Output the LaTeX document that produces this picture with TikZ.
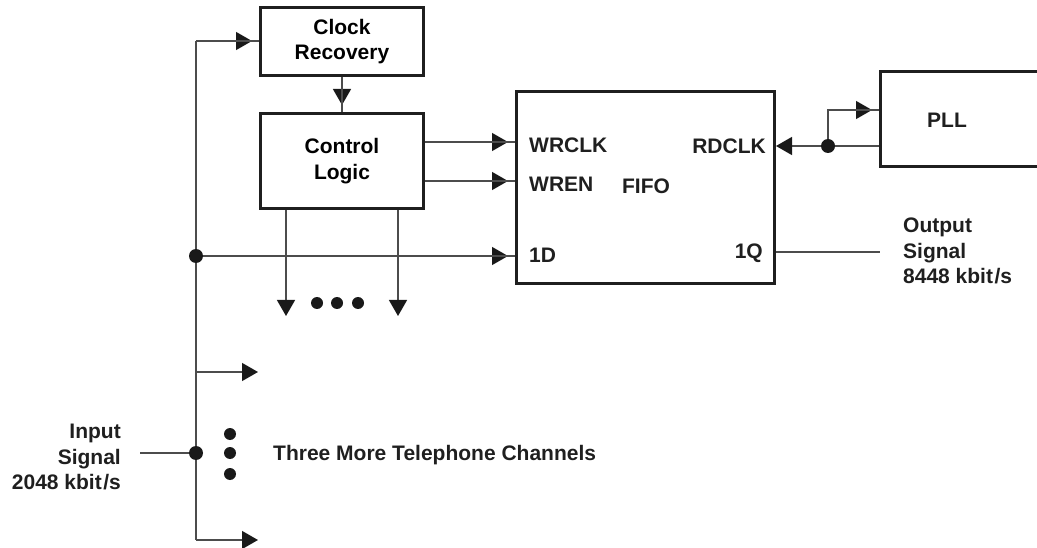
\documentclass[tikz,border=0pt]{standalone}
\usepackage{fontspec}
\setmainfont{Liberation Sans}
\usetikzlibrary{arrows.meta}
\begin{document}
\begin{tikzpicture}[x=1pt,y=-1pt,
  box/.style={draw=black!88, line width=3pt, inner sep=0pt, align=center,
    font=\fontsize{21}{25.5}\selectfont\bfseries},
  wire/.style={draw=black!70, line width=1.3pt},
  sig/.style={wire, -{Triangle[length=16pt,width=18pt,color=black!90]}},
  % arrow head set back from the block, with the wire running on to its edge
  feed/.style={sig, shorten >=7pt, postaction={draw=black!70, -, shorten >=0pt}},
  lbl/.style={font=\fontsize{21}{25.5}\selectfont\bfseries, inner sep=0pt, text=black!88},
  jdot/.style={circle, fill=black!90, minimum size=14pt, inner sep=0pt},
  tdot/.style={circle, fill=black!90, minimum size=12pt, inner sep=0pt},
]
\useasboundingbox (0,0) rectangle (1037,548);
\clip (0,0) rectangle (1037,548);

% blocks
\node[box, minimum width=163pt, minimum height=68pt] (cr) at (342,41.5) {Clock\\Recovery};
\node[box, minimum width=163pt, minimum height=95pt] (cl) at (342,161) {Control\\Logic};
\node[box, minimum width=258pt, minimum height=192pt] (fifo) at (645.5,187.5) {};
\node[box, anchor=north west, minimum width=200pt, minimum height=95pt] (pll) at (879,70) {};

% labels inside the blocks
\node[lbl, anchor=base west] (lwrclk) at (529,152.5) {WRCLK};
\node[lbl, anchor=base west] (lwren) at (529,191.5) {WREN};
\node[lbl, anchor=base] (lfifo) at (646,194) {FIFO};
\node[lbl, anchor=base west] (l1d) at (529,263) {1D};
\node[lbl, anchor=base east] (lrdclk) at (766,154) {RDCLK};
\node[lbl, anchor=base east] (l1q) at (763,259) {1Q};
\node[lbl] (lpll) at (947,120) {PLL};

% input bus
\coordinate (btop) at (196,41);
\coordinate (bbot) at (196,540);
\coordinate (jD) at (196,256);
\coordinate (jin) at (196,453);
\coordinate (inL) at (140,453);
\coordinate (ch2) at (196,372);
\coordinate (ch2e) at (258,372);
\coordinate (ch4e) at (258,540);
\draw[wire] (btop) -- (bbot);
\draw[feed] (btop) -- (btop -| cr.west);
\draw[feed] (jD) -- (jD -| fifo.west);
\draw[sig] (ch2) -- (ch2e);
\draw[sig] (bbot) -- (ch4e);
\draw[wire] (inL) -- (jin);
\node[jdot] (jDdot) at (jD) {};
\node[jdot] (jindot) at (jin) {};

% clock recovery to control logic
\draw[feed] (cr.south) -- (cl.north);

% control logic to FIFO
\coordinate (ywr) at (0,142);
\coordinate (yen) at (0,181);
\draw[feed] (ywr -| cl.east) -- (ywr -| fifo.west);
\draw[feed] (yen -| cl.east) -- (yen -| fifo.west);

% control logic outputs to the other channels
\coordinate (o1) at (286,316);
\coordinate (o2) at (398,316);
\draw[sig] (o1 |- cl.south) -- (o1);
\draw[sig] (o2 |- cl.south) -- (o2);
\node[tdot] (c1) at (317,303) {};
\node[tdot] (c2) at (337,303) {};
\node[tdot] (c3) at (358,303) {};

% read clock from the PLL
\coordinate (jr) at (828,146);
\coordinate (yp) at (0,110);
\draw[sig] (jr -| pll.west) -- (jr -| fifo.east);
\draw[feed] (jr) -- (jr |- yp) -- (yp -| pll.west);
\node[jdot] (jrdot) at (jr) {};

% output
\coordinate (yq) at (0,252);
\coordinate (qend) at (880,252);
\draw[wire] (yq -| fifo.east) -- (qend);

% remaining channels
\node[tdot] (v1) at (230,434) {};
\node[tdot] (v2) at (230,453) {};
\node[tdot] (v3) at (230,474) {};

% signal texts
\node[lbl, align=left, anchor=west] (lout) at (903,251) {Output\\Signal\\8448 kbit\kern1.5pt/s};
\node[lbl, align=right, anchor=east] (lin) at (121,457) {Input\\Signal\\2048 kbit\kern1.5pt/s};
\node[lbl, anchor=west] (lthree) at (273,455) {Three More Telephone Channels};
\end{tikzpicture}
\end{document}
